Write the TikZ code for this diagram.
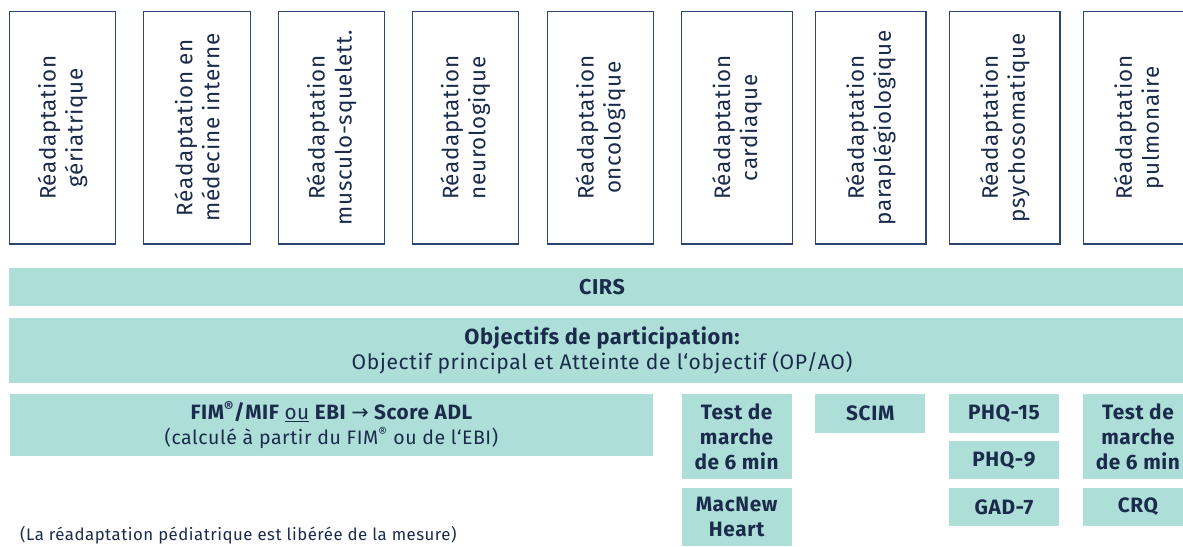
\documentclass[tikz,border=0pt]{standalone}
\usepackage{fontspec}
\setmainfont{Fira Sans}[LetterSpace=3]
\newfontfamily\arrowfont{DejaVu Sans}
\definecolor{ink}{HTML}{1B2B4B}
\definecolor{frame}{HTML}{2D4573}
\definecolor{mint}{HTML}{ADDFD8}
\begin{document}
\begin{tikzpicture}[x=1pt,y=-1pt,
  area/.style={draw=frame, line width=1.3pt, fill=white, rotate=90,
    minimum width=232.5pt, inner sep=0pt, align=center, text=ink,
    font=\fontsize{22.4}{27}\selectfont},
  bar/.style={fill=mint, inner sep=0pt, align=center, text=ink},
  tool/.style={bar, minimum width=110.2pt, align=center,
    font=\bfseries\fontsize{20.8}{25}\selectfont},
  note/.style={text=ink, inner sep=0pt, font=\fontsize{16.8}{20}\selectfont}
]
\useasboundingbox (0,0) rectangle (1183,546);
\clip (0,0) rectangle (1183,546);

% rehabilitation areas (vertical labels)
\node[area, minimum height=106pt]   (a1) at (62.5,127.75)  {Réadaptation\\gériatrique};
\node[area, minimum height=106.6pt] (a2) at (197,127.75)   {Réadaptation en\\médecine interne};
\node[area, minimum height=105.6pt] (a3) at (331.5,127.75) {Réadaptation\\musculo-squelett.};
\node[area, minimum height=106pt]   (a4) at (465.3,127.75) {Réadaptation\\neurologique};
\node[area, minimum height=105.6pt] (a5) at (600.5,127.75) {Réadaptation\\oncologique};
\node[area, minimum height=110.6pt] (a6) at (737,127.75)   {Réadaptation\\cardiaque};
\node[area, minimum height=110.3pt] (a7) at (870.9,127.75) {Réadaptation\\paraplégiologique};
\node[area, minimum height=110.3pt] (a8) at (1004.9,127.75){Réadaptation\\psychosomatique};
\node[area, minimum height=110.3pt] (a9) at (1138.8,127.75){Réadaptation\\pulmonaire};

% measures common to all areas
\node[bar, minimum width=1186pt, minimum height=37.5pt,
  font=\bfseries\fontsize{21.5}{24}\selectfont] (cirs) at (602,286.75) {CIRS};
\node[bar, minimum width=1186pt, minimum height=64.5pt,
  font=\fontsize{21.1}{25}\selectfont] (op) at (602,350.25)
  {{\bfseries\fontsize{21.8}{25}\selectfont Objectifs de participation:}\\Objectif principal et Atteinte de l‘objectif (OP/AO)};
\node[bar, minimum width=642.7pt, minimum height=62pt,
  font=\fontsize{19.5}{25}\selectfont] (fim) at (331.4,425)
  {{\bfseries\fontsize{20.7}{25}\selectfont FIM\textsuperscript{®}/MIF \mdseries\underline{ou}\bfseries{} EBI {\arrowfont\mdseries →} Score ADL}\\(calculé à partir du FIM\textsuperscript{®} ou de l‘EBI)};

% area-specific measures
\node[tool, minimum height=85pt]   (t1) at (736.6,436.5) {Test de\\marche\\de 6 min};
\node[tool, minimum height=58.3pt] (t2) at (736.6,516.85) {MacNew\\Heart};
\node[tool, minimum height=38.7pt] (t3) at (870.3,413.35) {SCIM};
\node[tool, minimum height=38.7pt] (t4) at (1003.9,413.35) {PHQ-15};
\node[tool, minimum height=38.3pt] (t5) at (1003.9,460.15) {PHQ-9};
\node[tool, minimum height=38.3pt] (t6) at (1003.9,506.85) {GAD-7};
\node[tool, minimum height=85pt]   (t7) at (1137.9,436.5) {Test de\\marche\\de 6 min};
\node[tool, minimum height=38.3pt] (t8) at (1137.9,506.85) {CRQ};

\node[note, anchor=west] (ped) at (20,535) {(La réadaptation pédiatrique est libérée de la mesure)};
\end{tikzpicture}
\end{document}
